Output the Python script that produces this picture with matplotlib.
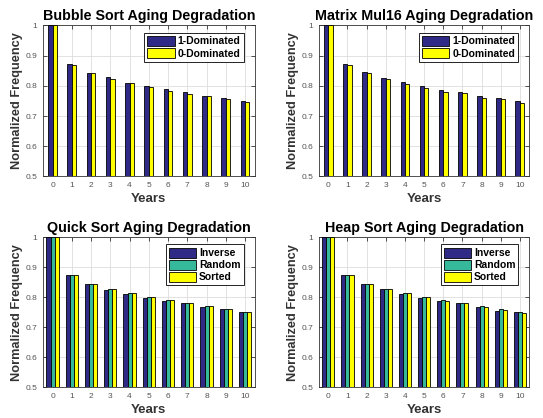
import numpy as np
import matplotlib.pyplot as plt

plt.rcParams['font.family'] = ['Liberation Sans', 'DejaVu Sans']

years = list(range(11))

bubble_1dom = [1.0, 0.871, 0.844, 0.828, 0.811, 0.799, 0.788, 0.778, 0.767, 0.760, 0.750]
bubble_0dom = [1.0, 0.869, 0.841, 0.824, 0.810, 0.796, 0.784, 0.774, 0.766, 0.758, 0.748]

matrix_1dom = [1.0, 0.873, 0.845, 0.827, 0.813, 0.798, 0.787, 0.779, 0.767, 0.759, 0.750]
matrix_0dom = [1.0, 0.868, 0.841, 0.823, 0.807, 0.794, 0.780, 0.775, 0.761, 0.755, 0.744]

quick_inverse = [1.0, 0.873, 0.843, 0.824, 0.810, 0.798, 0.787, 0.780, 0.769, 0.761, 0.750]
quick_random = [1.0, 0.873, 0.843, 0.828, 0.813, 0.800, 0.790, 0.780, 0.770, 0.761, 0.750]
quick_sorted = [1.0, 0.873, 0.843, 0.828, 0.813, 0.800, 0.790, 0.780, 0.770, 0.761, 0.750]

heap_inverse = [1.0, 0.874, 0.843, 0.826, 0.812, 0.798, 0.786, 0.780, 0.769, 0.755, 0.750]
heap_random = [1.0, 0.874, 0.845, 0.828, 0.813, 0.801, 0.790, 0.781, 0.771, 0.760, 0.752]
heap_sorted = [1.0, 0.874, 0.845, 0.828, 0.813, 0.801, 0.789, 0.780, 0.768, 0.757, 0.749]

navy = '#2e2a85'
teal = '#35b99a'
yellow = '#ffff00'


def draw(ax, title, series, labels, colors, width):
    x = np.arange(len(years))
    n = len(series)
    for i, (vals, lab, col) in enumerate(zip(series, labels, colors)):
        off = (i - (n - 1) / 2) * width
        ax.bar(x + off, vals, width, color=col, edgecolor='black',
               linewidth=0.6, label=lab, zorder=3)
    ax.set_xlim(-0.5, 10.5)
    ax.set_ylim(0.5, 1.0)
    ax.set_xticks(x)
    ax.set_xticklabels([str(y) for y in years])
    ax.set_yticks([0.5, 0.6, 0.7, 0.8, 0.9, 1.0])
    ax.set_yticklabels(['0.5', '0.6', '0.7', '0.8', '0.9', '1'])
    ax.tick_params(direction='in', length=3, width=0.6, labelsize=6,
                   labelcolor='#555555', color='#333333',
                   top=True, right=True, pad=4)
    ax.grid(True, color='#dddddd', linewidth=0.6, zorder=0)
    for s in ax.spines.values():
        s.set_color('#333333')
        s.set_linewidth(0.6)
    ax.set_title(title, fontsize=10.3, fontweight='bold', pad=4)
    ax.set_xlabel('Years', fontsize=9.5, fontweight='bold', color='#333333', labelpad=3)
    ax.set_ylabel('Normalized Frequency', fontsize=9.2, fontweight='bold',
                  color='#333333', labelpad=2)
    leg = ax.legend(loc='upper right', bbox_to_anchor=(0.948, 0.952),
                    prop={'weight': 'bold', 'size': 7.5},
                    fancybox=False, edgecolor='black', framealpha=1,
                    handlelength=2.6, handleheight=1.1, handletextpad=0.3,
                    labelspacing=0.15, borderpad=0.3, borderaxespad=0.0)
    leg.get_frame().set_linewidth(0.6)


fig = plt.figure(figsize=(5.43, 4.18), dpi=100)
ax1 = fig.add_axes([0.079, 0.578, 0.390, 0.361])
ax2 = fig.add_axes([0.587, 0.578, 0.388, 0.361])
ax3 = fig.add_axes([0.079, 0.0735, 0.390, 0.359])
ax4 = fig.add_axes([0.587, 0.0735, 0.388, 0.359])

draw(ax1, 'Bubble Sort Aging Degradation', [bubble_1dom, bubble_0dom],
     ['1-Dominated', '0-Dominated'], [navy, yellow], 0.23)
draw(ax2, 'Matrix Mul16 Aging Degradation', [matrix_1dom, matrix_0dom],
     ['1-Dominated', '0-Dominated'], [navy, yellow], 0.23)
draw(ax3, 'Quick Sort Aging Degradation', [quick_inverse, quick_random, quick_sorted],
     ['Inverse', 'Random', 'Sorted'], [navy, teal, yellow], 0.21)
draw(ax4, 'Heap Sort Aging Degradation', [heap_inverse, heap_random, heap_sorted],
     ['Inverse', 'Random', 'Sorted'], [navy, teal, yellow], 0.21)

fig.savefig('out.png', dpi=100)
